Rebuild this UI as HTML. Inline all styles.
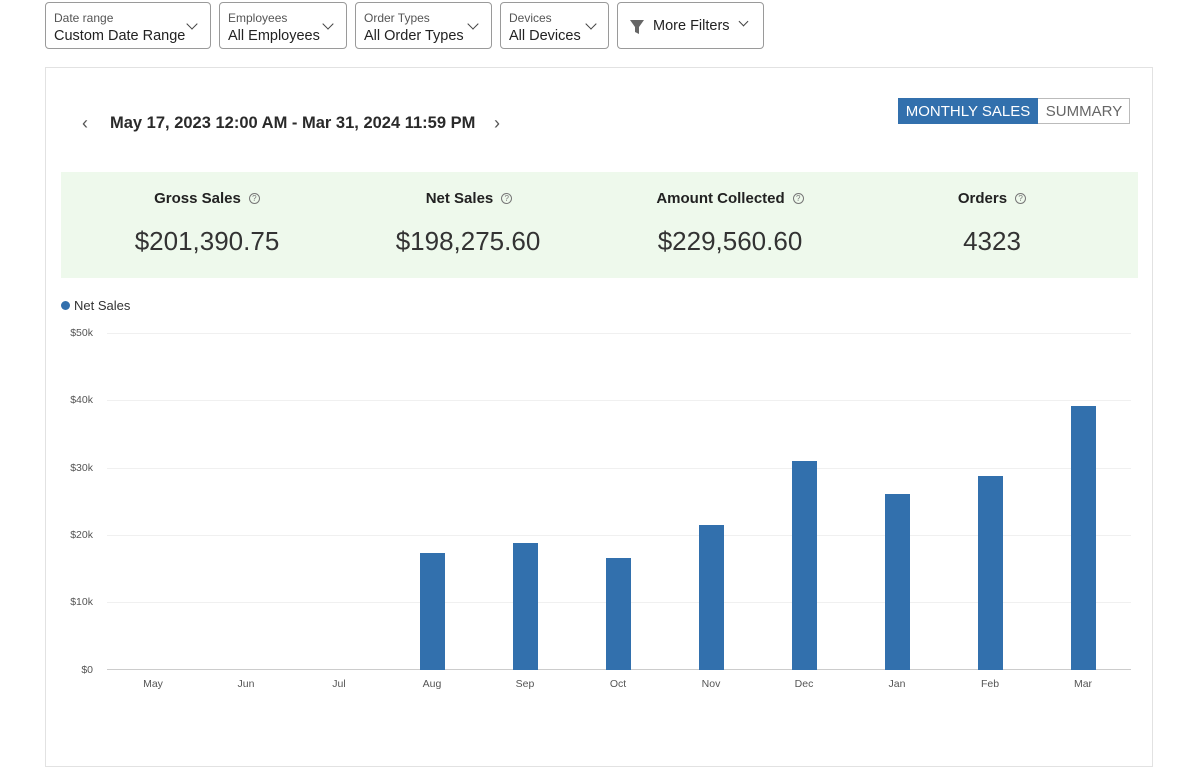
<!DOCTYPE html>
<html><head><style>
body{margin:0;width:1200px;height:739px;background:#fff;font-family:"Liberation Sans",sans-serif;position:relative;overflow:hidden;color:#222}
.a{position:absolute}
.f{position:absolute;top:2px;height:47px;border:1px solid #9a9a9a;border-radius:4px;box-sizing:border-box;background:#fff}
.f .l{position:absolute;left:8px;top:8px;font-size:12px;color:#555}
.f .v{position:absolute;left:8px;top:25px;font-size:14.5px;color:#222;white-space:nowrap}
.f .c{position:absolute;top:17px;width:7px;height:7px;border-right:1.6px solid #444;border-bottom:1.6px solid #444;transform:rotate(45deg)}
.t{position:absolute;font-size:15px;font-weight:bold;text-align:center;width:260px}
.n{position:absolute;font-size:26px;color:#333;text-align:center;width:260px}
.q{display:inline-block;width:9px;height:9px;border:1px solid #777;border-radius:50%;font-size:8px;line-height:9px;font-weight:normal;color:#777;vertical-align:2px;margin-left:8px}
.yl{position:absolute;left:50px;width:43px;text-align:right;font-size:10.5px;color:#555}
.xl{position:absolute;top:678px;width:60px;text-align:center;font-size:10.5px;color:#555}
.g{position:absolute;left:107px;width:1024px;height:1px;background:#f0f0f0}
.b{position:absolute;width:25px;background:#3270ad}
</style></head><body>
<div class="f" style="left:45px;width:166px"><div class="l">Date range</div><div class="v">Custom Date Range</div><div class="c" style="left:142px"></div></div>
<div class="f" style="left:219px;width:128px"><div class="l">Employees</div><div class="v">All Employees</div><div class="c" style="left:104px"></div></div>
<div class="f" style="left:355px;width:137px"><div class="l">Order Types</div><div class="v">All Order Types</div><div class="c" style="left:113px"></div></div>
<div class="f" style="left:500px;width:109px"><div class="l">Devices</div><div class="v">All Devices</div><div class="c" style="left:86px"></div></div>
<div class="f" style="left:617px;width:147px"><svg class="a" style="left:11px;top:16px" width="16" height="16"><path d="M1 1H15L10 8V15L6 13V8Z" fill="#666"/></svg><div class="v" style="left:35px;top:15px">More Filters</div><div class="c" style="left:122px;top:15px;width:6px;height:6px"></div></div>

<div class="a" style="left:45px;top:67px;width:1108px;height:700px;border:1px solid #e2e2e2;box-sizing:border-box"></div>
<div class="a" style="left:82px;top:113px;font-size:18px;color:#555">&#8249;</div>
<div class="a" style="left:110px;top:114px;font-size:16.5px;font-weight:bold;color:#2a2a2a">May 17, 2023 12:00 AM - Mar 31, 2024 11:59 PM</div>
<div class="a" style="left:494px;top:113px;font-size:18px;color:#555">&#8250;</div>
<div class="a" style="left:898px;top:98px;width:232px;height:26px;border:1px solid #bbb;box-sizing:border-box"></div>
<div class="a" style="left:898px;top:98px;width:140px;height:26px;background:#3270ad;color:#fff;font-size:15px;line-height:27px;text-align:center">MONTHLY SALES</div>
<div class="a" style="left:1038px;top:98px;width:92px;height:26px;color:#666;font-size:15px;line-height:27px;text-align:center">SUMMARY</div>

<div class="a" style="left:61px;top:172px;width:1077px;height:106px;background:#eef9ec"></div>
<div class="t" style="left:77px;top:190px">Gross Sales<span class="q">?</span></div>
<div class="t" style="left:339px;top:190px">Net Sales<span class="q">?</span></div>
<div class="t" style="left:600px;top:190px">Amount Collected<span class="q">?</span></div>
<div class="t" style="left:862px;top:190px">Orders<span class="q">?</span></div>
<div class="n" style="left:77px;top:226px">$201,390.75</div>
<div class="n" style="left:338px;top:226px">$198,275.60</div>
<div class="n" style="left:600px;top:226px">$229,560.60</div>
<div class="n" style="left:862px;top:226px">4323</div>

<div class="a" style="left:61px;top:301px;width:9px;height:9px;border-radius:50%;background:#3270ad"></div>
<div class="a" style="left:74px;top:298px;font-size:13px;color:#333">Net Sales</div>

<div class="g" style="top:333px"></div><div class="g" style="top:400px"></div><div class="g" style="top:468px"></div><div class="g" style="top:535px"></div><div class="g" style="top:602px"></div>
<div class="a" style="left:107px;top:669px;width:1024px;height:1px;background:#ccc"></div>
<div class="yl" style="top:327px">$50k</div><div class="yl" style="top:394px">$40k</div><div class="yl" style="top:462px">$30k</div><div class="yl" style="top:529px">$20k</div><div class="yl" style="top:596px">$10k</div><div class="yl" style="top:664px">$0</div>

<div class="b" style="left:420px;top:553px;height:117px"></div>
<div class="b" style="left:513px;top:543px;height:127px"></div>
<div class="b" style="left:606px;top:558px;height:112px"></div>
<div class="b" style="left:699px;top:525px;height:145px"></div>
<div class="b" style="left:792px;top:461px;height:209px"></div>
<div class="b" style="left:885px;top:494px;height:176px"></div>
<div class="b" style="left:978px;top:476px;height:194px"></div>
<div class="b" style="left:1071px;top:406px;height:264px"></div>

<div class="xl" style="left:123px">May</div><div class="xl" style="left:216px">Jun</div><div class="xl" style="left:309px">Jul</div><div class="xl" style="left:402px">Aug</div><div class="xl" style="left:495px">Sep</div><div class="xl" style="left:588px">Oct</div><div class="xl" style="left:681px">Nov</div><div class="xl" style="left:774px">Dec</div><div class="xl" style="left:867px">Jan</div><div class="xl" style="left:960px">Feb</div><div class="xl" style="left:1053px">Mar</div>
</body></html>
